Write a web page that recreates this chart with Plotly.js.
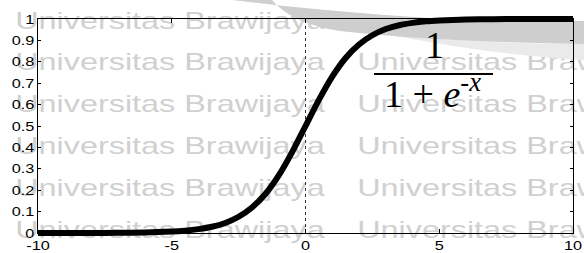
<!DOCTYPE html>
<html>
<head>
<meta charset="utf-8">
<script src="https://cdn.plot.ly/plotly-3.0.1.min.js"></script>
<style>
html,body{margin:0;padding:0;background:#fff;overflow:hidden}
#chart{width:584px;height:253px}
</style>
</head>
<body>
<div id="chart"></div>
<script>
// ---- data ----
const xValues = [-10,-9,-8,-7,-6,-5,-4.5,-4,-3.5,-3,-2.5,-2,-1.5,-1,-0.5,0,0.5,1,1.5,2,2.5,3,3.5,4,4.5,5,6,7,8,9,10];
const yValues = [0.0000,0.0001,0.0003,0.0009,0.0025,0.0067,0.011,0.018,0.029,0.047,0.076,0.119,0.182,0.269,0.378,0.500,0.622,0.731,0.818,0.881,0.924,0.953,0.971,0.982,0.989,0.993,0.9975,0.999,0.9997,0.9999,1.0000];
const refLineX = [0, 0];
const refLineY = [0, 1];
const xTickVals = [-10, -5, 0, 5, 10];
const xTickText = ['-10', '-5', '0', '5', '10'];
const yTickVals = [0, 0.1, 0.2, 0.3, 0.4, 0.5, 0.6, 0.7, 0.8, 0.9, 1];
const yTickText = ['0', '0.1', '0.2', '0.3', '0.4', '0.5', '0.6', '0.7', '0.8', '0.9', '1'];
const watermarkText = 'Universitas Brawijaya';
const formulaNumerator = '1';
const formulaDenominator = '1 + <i>e</i><sup>-<i>x</i></sup>';

// ---- geometry (pixels) ----
const W = 584, H = 253;
const L = 38, R = 573, T = 19, B = 233;   // frame of the axes
const PT = 13, PB = 239;                  // outer drawing area for the curve
const px2x = p => (p - L) / (R - L);
const px2y = p => (PB - p) / (PB - PT);
const ext = (PB - B) / (B - T);

const tickFont = {family: 'Liberation Sans, Arial, sans-serif', size: 13, color: '#000'};

const traces = [
  {x: refLineX, y: refLineY, xaxis: 'x', yaxis: 'y', mode: 'lines',
   line: {color: '#333', width: 1, dash: 'dot'}, hoverinfo: 'skip', showlegend: false},
  {x: xValues, y: yValues, xaxis: 'x', yaxis: 'y2', mode: 'lines',
   line: {color: '#000', width: 6, shape: 'spline', smoothing: 0.6}, showlegend: false}
];

// watermark rows
const rowCenters = [20.5, 62, 104, 145.5, 187.5, 229.5];
const copyCenters = [170, 512];
const annotations = [];
rowCenters.forEach((cy, r) => {
  copyCenters.forEach((cx, c) => {
    if (r === 0 && c === 1) return;
    annotations.push({text: watermarkText, xref: 'paper', yref: 'paper',
      x: px2x(cx), y: px2y(cy), xanchor: 'center', yanchor: 'middle', showarrow: false,
      font: {family: 'Liberation Sans, Arial, sans-serif', size: 23, color: 'rgb(208,208,208)'}});
  });
});
const nWatermark = annotations.length;
annotations.push({text: formulaNumerator, xref: 'paper', yref: 'paper',
  x: px2x(434), y: px2y(45), xanchor: 'center', yanchor: 'middle', showarrow: false,
  font: {family: 'Liberation Serif, Times New Roman, serif', size: 38, color: '#000'}});
annotations.push({text: formulaDenominator, xref: 'paper', yref: 'paper',
  x: px2x(432), y: px2y(117), xanchor: 'center', yanchor: 'bottom', showarrow: false,
  font: {family: 'Liberation Serif, Times New Roman, serif', size: 38, color: '#000'}});

function pathFromPx(cmds) {
  return cmds.map(c => {
    if (c[0] === 'Z') return 'Z';
    const pts = [];
    for (let i = 1; i < c.length; i += 2) pts.push(px2x(c[i]).toFixed(4) + ',' + px2y(c[i + 1]).toFixed(4));
    return c[0] + pts.join(' ');
  }).join(' ');
}

const swoosh = pathFromPx([
  ['M', 232, 0], ['Q', 330, 12, 430, 18], ['L', 584, 21], ['L', 584, 44],
  ['Q', 440, 42, 340, 31], ['Q', 292, 24, 272, 0], ['Z']
]);
const swooshLight = pathFromPx([
  ['M', 380, 33], ['Q', 470, 44, 584, 44], ['L', 584, 60], ['Q', 490, 55, 380, 33], ['Z']
]);

const shapes = [
  {type: 'path', xref: 'paper', yref: 'paper', path: swooshLight, fillcolor: 'rgb(234,234,234)', line: {width: 0}, layer: 'below'},
  {type: 'path', xref: 'paper', yref: 'paper', path: swoosh, fillcolor: 'rgb(206,206,206)', line: {width: 0}, layer: 'below'},
  {type: 'line', xref: 'paper', yref: 'paper', x0: px2x(374), x1: px2x(493), y0: px2y(74), y1: px2y(74),
   line: {color: '#000', width: 2}}
];

const axisCommon = {showgrid: false, zeroline: false, showline: true, linecolor: '#000', linewidth: 1,
  mirror: 'ticks', ticks: 'inside', tickcolor: '#000', tickwidth: 1, tickfont: tickFont, fixedrange: true};

const layout = {
  width: W, height: H,
  margin: {l: L, r: W - R, t: PT, b: H - PB, pad: 0},
  paper_bgcolor: '#fff', plot_bgcolor: 'rgba(0,0,0,0)',
  showlegend: false,
  xaxis: Object.assign({}, axisCommon, {range: [-10, 10], tickmode: 'array', tickvals: xTickVals, ticktext: xTickText,
    ticklen: 4, anchor: 'y', automargin: false}),
  yaxis: Object.assign({}, axisCommon, {range: [0, 1], tickmode: 'array', tickvals: yTickVals, ticktext: yTickText,
    ticklen: 3, anchor: 'x', automargin: false,
    domain: [(PB - B) / (PB - PT), (PB - T) / (PB - PT)]}),
  yaxis2: {range: [-ext, 1 + ext], domain: [0, 1], anchor: 'x', visible: false, fixedrange: true, showgrid: false, zeroline: false},
  annotations: annotations,
  shapes: shapes
};

function stretch(el, k, anchor) {
  const bb = el.getBBox();
  const cx = anchor === 'end' ? bb.x + bb.width : (anchor === 'start' ? bb.x : bb.x + bb.width / 2);
  const t = el.getAttribute('transform') || '';
  el.setAttribute('transform', t + ' translate(' + cx + ',0) scale(' + k + ',1) translate(' + (-cx) + ',0)');
}

Plotly.newPlot('chart', traces, layout, {staticPlot: true, displayModeBar: false}).then(gd => {
  gd.querySelectorAll('.xtick text').forEach(el => stretch(el, 1.25, 'middle'));
  gd.querySelectorAll('.ytick text').forEach(el => stretch(el, 1.25, 'end'));
  const below = gd.querySelector('.layer-below');
  const groups = Array.from(gd.querySelectorAll('.annotation'));
  groups.forEach(g => {
    const idx = +g.getAttribute('data-index');
    if (idx < nWatermark) {
      const txt = g.querySelector('text');
      const bb = txt.getBBox();
      stretch(txt, 310 / bb.width, 'middle');
      if (below) below.insertBefore(g, below.firstChild);
    }
  });
});
</script>
</body>
</html>
